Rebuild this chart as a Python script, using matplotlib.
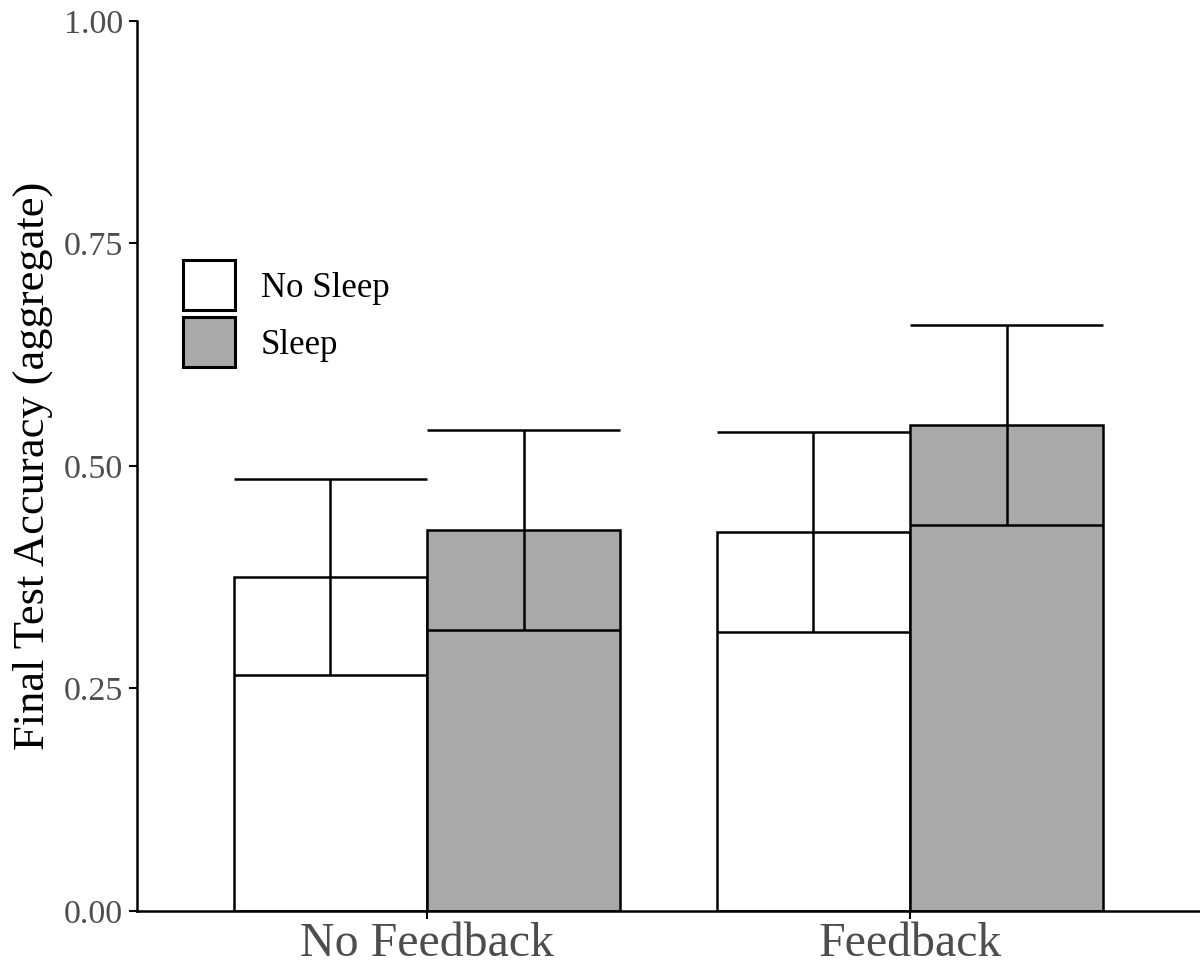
import matplotlib
matplotlib.use('Agg')
import matplotlib.pyplot as plt
from matplotlib.patches import Patch
import numpy as np

plt.rcParams['font.family'] = ['Liberation Serif', 'DejaVu Serif']

# data
conditions = ['No Feedback', 'Feedback']
groups = ['No Sleep', 'Sleep']
means = {'No Sleep': [0.375, 0.426], 'Sleep': [0.428, 0.546]}
errs = {'No Sleep': [0.110, 0.112], 'Sleep': [0.112, 0.112]}
fills = {'No Sleep': 'white', 'Sleep': '#a9a9a9'}

fig = plt.figure(figsize=(12, 9.71), dpi=100)
ax = fig.add_axes([0.1142, 0.0618, 0.8858, 0.9166])

x = np.arange(1, len(conditions) + 1)
w = 0.4
lw = 1.8
for i, g in enumerate(groups):
    xs = x + (i - 0.5) * w
    m = np.array(means[g])
    e = np.array(errs[g])
    ax.bar(xs, m, width=w, color=fills[g], edgecolor='black', linewidth=lw, zorder=2)
    ax.vlines(xs, m - e, m + e, color='black', linewidth=lw, zorder=3)
    ax.hlines(m - e, xs - w / 2, xs + w / 2, color='black', linewidth=lw, zorder=3)
    ax.hlines(m + e, xs - w / 2, xs + w / 2, color='black', linewidth=lw, zorder=3)

ax.set_xlim(0.4, 2.6)
ax.set_ylim(0, 1)
ax.set_xticks(x)
ax.set_xticklabels(conditions)
ax.set_yticks([0, 0.25, 0.5, 0.75, 1.0])
ax.set_yticklabels(['0.00', '0.25', '0.50', '0.75', '1.00'])
ax.spines['top'].set_visible(False)
ax.spines['right'].set_visible(False)
ax.spines['left'].set_linewidth(lw)
ax.spines['bottom'].set_linewidth(lw)
ax.tick_params(axis='y', labelsize=24.5, labelcolor='#4d4d4d', length=6, width=1.5, pad=4)
ax.tick_params(axis='x', labelsize=34.5, labelcolor='#4d4d4d', length=6, width=1.5, pad=2)
ax.set_ylabel('Final Test Accuracy (aggregate)', fontsize=32, labelpad=8)

handles = [Patch(facecolor=fills[g], edgecolor='black', linewidth=2.2) for g in groups]
ax.legend(handles, groups, loc='upper left', bbox_to_anchor=(0.043, 0.731),
          frameon=False, fontsize=25, handlelength=1.5, handleheight=1.84,
          handletextpad=0.75, labelspacing=0.2, borderpad=0, borderaxespad=0)

fig.savefig('out.png', dpi=100)
